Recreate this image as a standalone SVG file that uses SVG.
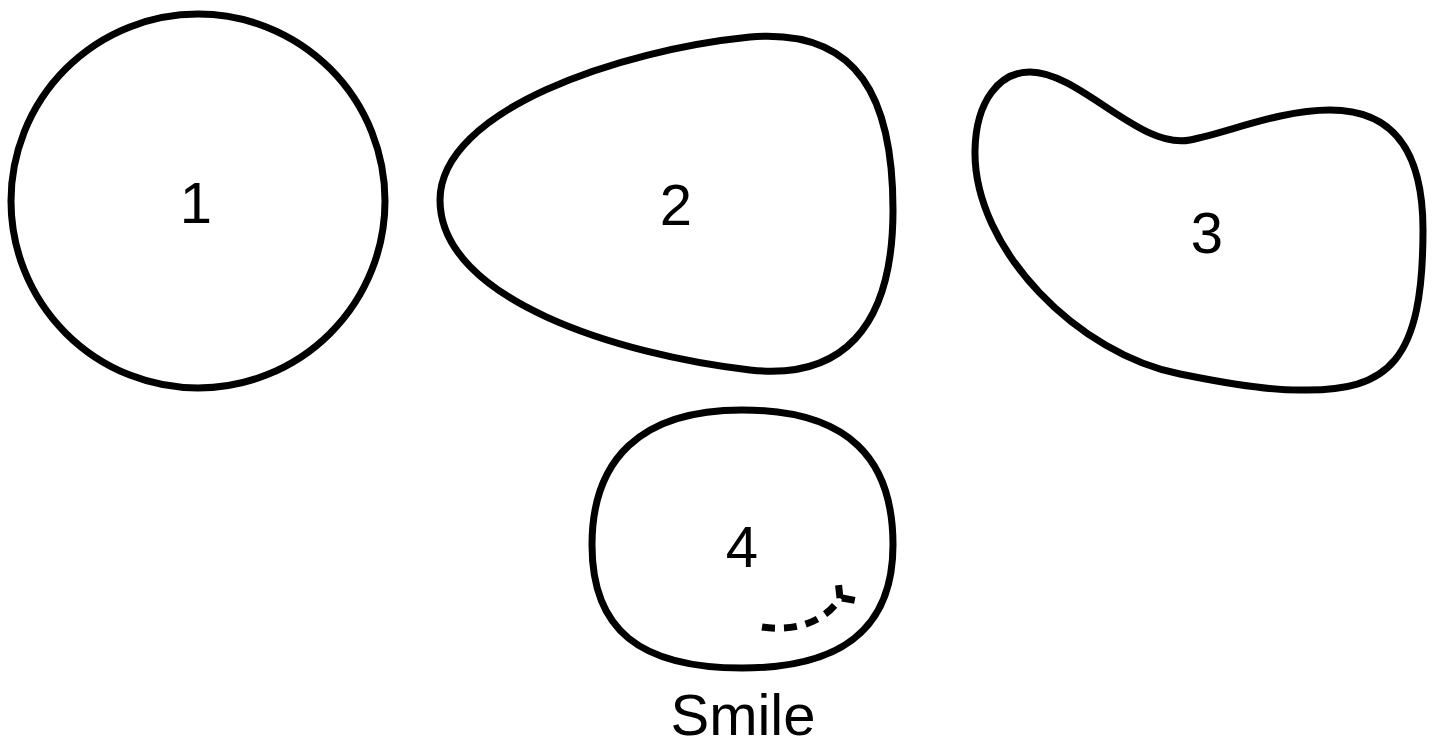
<svg xmlns="http://www.w3.org/2000/svg" width="1439" height="745" viewBox="0 0 1439 745">
<style>
.s{fill:none;stroke:#000;stroke-width:7;stroke-linejoin:round}
.t{font-family:"Liberation Sans",Arial,sans-serif;font-size:58px;fill:#000;text-anchor:middle}
.d{fill:none;stroke:#000;stroke-width:7;stroke-dasharray:13 9}
</style>
<rect width="1439" height="745" fill="#fff"/>
<g id="node1"><circle class="s" cx="198" cy="201" r="187"/><text class="t" x="196" y="223">1</text></g>
<g id="node2"><path class="s" d="M440,200 C440,110 620,50 750,37 C860,28 893,100 893,210 C893,330 840,380 750,370 C620,355 440,300 440,200 Z"/><text class="t" x="676" y="225">2</text></g>
<g id="node3"><path class="s" d="M1190,140 C1230,132 1280,110 1330,110 C1400,110 1423,160 1423,230 C1423,360 1390,392 1300,390 C1260,390 1210,380 1180,374 C1080,355 973,250 975,150 C976,100 1000,72 1030,72 C1080,72 1140,150 1190,140 Z"/><text class="t" x="1207" y="253">3</text></g>
<g id="node4"><path class="s" d="M742,410 C850,410 893,460 893,545 C893,630 840,668 742,668 C640,668 592,630 592,545 C592,460 640,410 742,410 Z"/><text class="t" x="742" y="567">4</text>
<path class="d" d="M762,627 C795,632 825,622 840,598 L838,580"/><path class="d" d="M842,598 L858,601"/>
<text class="t" x="743" y="735">Smile</text></g>
<g id="connectors"></g>
</svg>
